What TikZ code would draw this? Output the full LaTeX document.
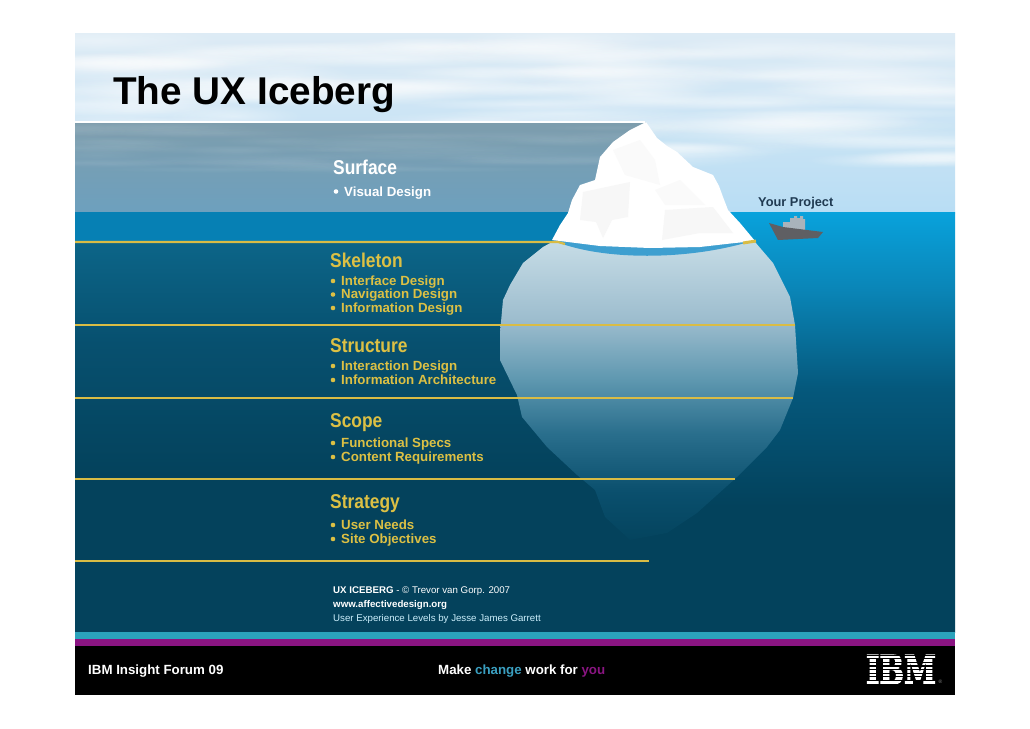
\documentclass[tikz,border=0pt]{standalone}
\usepackage{fontspec}
\setmainfont{Liberation Sans}
\newfontfamily\headf[FakeStretch=0.87]{Liberation Sans}
\newfontfamily\ibmf[BoldFeatures={FakeBold=3}]{DejaVu Serif}
\usetikzlibrary{fadings}
\tikzfading[name=soft, inner color=transparent!0, outer color=transparent!100]
\definecolor{gold}{HTML}{DCC044}
\definecolor{linegold}{HTML}{D9BC45}
\definecolor{skyA}{HTML}{DDEBF5}
\definecolor{skyB}{HTML}{B8DDF4}
\definecolor{panA}{HTML}{7D9DAD}
\definecolor{panB}{HTML}{6DA0BE}
\definecolor{surf}{HTML}{0680B4}
\definecolor{wa}{HTML}{09A2DC}
\definecolor{wb}{HTML}{0A86B8}
\definecolor{wc}{HTML}{05587C}
\definecolor{wd}{HTML}{03425C}
\definecolor{da}{HTML}{0C6588}
\definecolor{db}{HTML}{07506F}
\definecolor{dc}{HTML}{04425C}
\definecolor{ia}{HTML}{C6DCE6}
\definecolor{ib}{HTML}{9DBDCE}
\definecolor{ic}{HTML}{5F98B0}
\definecolor{id}{HTML}{2A6F8D}
\definecolor{ie}{HTML}{0A4F6D}
\definecolor{ig}{HTML}{04445E}
\definecolor{bandc}{HTML}{3E9FD0}
\definecolor{stripc}{HTML}{2BA3BC}
\definecolor{purp}{HTML}{8A1582}
\definecolor{chg}{HTML}{3A9FC0}
\definecolor{navy}{HTML}{1F3A52}
\definecolor{hull}{HTML}{5F5F63}
\definecolor{deck}{HTML}{A9B3BB}
\pgfdeclareverticalshading{skysh}{100bp}{color(0bp)=(skyB);color(25bp)=(skyB);color(75bp)=(skyA);color(100bp)=(skyA)}
\pgfdeclareverticalshading{pansh}{100bp}{color(0bp)=(panB);color(25bp)=(panB);color(75bp)=(panA);color(100bp)=(panA)}
\pgfdeclareverticalshading{watersh}{100bp}{color(0bp)=(wd);color(25bp)=(wd);color(40bp)=(wd);color(54bp)=(wc);color(66bp)=(wb);color(75bp)=(wa);color(100bp)=(wa)}
\pgfdeclareverticalshading{deepsh}{100bp}{color(0bp)=(dc);color(25bp)=(dc);color(45bp)=(dc);color(62bp)=(db);color(75bp)=(da);color(100bp)=(da)}
\pgfdeclareverticalshading{icesh}{100bp}{color(0bp)=(ig);color(25bp)=(ig);color(33bp)=(ie);color(43bp)=(id);color(52bp)=(ic);color(62bp)=(ib);color(75bp)=(ia);color(100bp)=(ia)}
\tikzset{
  headtxt/.style={anchor=base west,inner sep=0pt,text=gold,font=\headf\bfseries\fontsize{20}{24}\selectfont},
  itemtxt/.style={anchor=base west,inner sep=0pt,text=gold,font=\bfseries\fontsize{13.3}{16}\selectfont},
  bulletdot/.style={fill=gold,draw=none,circle,inner sep=0pt,minimum size=4.6pt},
  goldline/.style={draw=linegold,line width=2.2pt},
  credit/.style={anchor=base west,inner sep=0pt,text=white,font=\fontsize{9.7}{12}\selectfont},
  foot/.style={anchor=base west,inner sep=0pt,text=white,font=\bfseries\fontsize{13.3}{16}\selectfont},
  facet/.style={fill=black!3}
}
\begin{document}
\begin{tikzpicture}[x=1pt,y=-1pt]
\useasboundingbox (0,0) rectangle (1030,728);
\fill[white] (0,0) rectangle (1030,728);
% sky
\shade[shading=skysh] (75,33) rectangle (955,213);
\pgfmathsetseed{42}
\begin{scope}
\clip (75,33) rectangle (955,213);
\foreach \i in {1,...,90}{
  \pgfmathsetmacro\cx{75+rnd*880}
  \pgfmathsetmacro\cy{36+rnd*125}
  \pgfmathsetmacro\rx{60+rnd*120}
  \pgfmathsetmacro\ry{6+rnd*9}
  \fill[white,opacity=.38,path fading=soft] (\cx,\cy) ellipse [x radius=\rx,y radius=\ry];
}
\end{scope}
% grey panel
\shade[shading=pansh] (75,122) -- (646,122) -- (620,213) -- (75,213) -- cycle;
\begin{scope}
\clip (75,122) -- (646,122) -- (620,213) -- (75,213) -- cycle;
\foreach \i in {1,...,40}{
  \pgfmathsetmacro\cx{75+rnd*570}
  \pgfmathsetmacro\cy{125+rnd*45}
  \pgfmathsetmacro\rx{50+rnd*110}
  \pgfmathsetmacro\ry{3+rnd*5}
  \fill[white,opacity=.06,path fading=soft] (\cx,\cy) ellipse [x radius=\rx,y radius=\ry];
}
\end{scope}
\draw[white,line width=1.2pt] (75,122) -- (645,122);
% water
\shade[shading=watersh] (75,212) rectangle (955,632);
\fill[surf] (75,212) rectangle (640,242);
\shade[shading=deepsh] (75,242) rectangle (650,632);
% iceberg below water
\shade[shading=icesh] (552,242) -- (543,247) -- (523,263) -- (510,285) -- (503,300) -- (500,333) -- (500,360) -- (517,395) -- (522,417) -- (547,447) -- (577,475) -- (595,490) -- (605,517) -- (630,540) -- (667,533) -- (697,513) -- (737,477) -- (767,447) -- (780,430) -- (793,398) -- (798,373) -- (795,325) -- (790,297) -- (773,263) -- (755,242) -- cycle;
% blue band
\fill[bandc] (552,240) .. controls (600,261) and (690,261) .. (755,240) -- (746,238) .. controls (700,250) and (610,250) .. (560,238) -- cycle;
% iceberg above water
\fill[white] (646,122) -- (657,138) -- (667,146) -- (677,152) -- (693,167) -- (713,175) -- (719,186) -- (723,197) -- (728,210) -- (740,223) -- (755,241) -- (735,243) -- (700,247) -- (650,248) -- (600,246) -- (552,240) -- (560,225) -- (568,213) -- (572,200) -- (580,185) -- (595,180) -- (600,157) -- (613,142) -- (630,130) -- cycle;
\fill[facet] (583,192) -- (630,182) -- (628,217) -- (612,220) -- (603,238) -- (596,222) -- (580,220) -- cycle;
\fill[facet] (665,210) -- (713,207) -- (733,233) -- (700,233) -- (662,240) -- cycle;
\fill[facet,fill=black!2] (613,150) -- (640,140) -- (655,160) -- (660,185) -- (625,175) -- cycle;
\fill[facet,fill=black!2] (655,190) -- (680,180) -- (705,205) -- (665,205) -- cycle;
% lines
\coordinate (l1a) at (75,242); \coordinate (l1b) at (558,242);
\coordinate (l1e) at (565,244);
\coordinate (l1c) at (743,243); \coordinate (l1d) at (756,241);
\coordinate (l2a) at (75,325); \coordinate (l2b) at (795,325);
\coordinate (l3a) at (75,398); \coordinate (l3b) at (793,398);
\coordinate (l4a) at (75,479); \coordinate (l4b) at (735,479);
\coordinate (l5a) at (75,561); \coordinate (l5b) at (649,561);
\draw[goldline] (l1a) -- (l1b) -- (l1e);
\draw[goldline,line width=3pt] (l1c) -- (l1d);
\draw[goldline] (l2a) -- (l2b);
\draw[goldline] (l3a) -- (l3b);
\draw[goldline] (l4a) -- (l4b);
\draw[goldline] (l5a) -- (l5b);
% ship
\fill[deck] (783,228) -- (783,222) -- (790,222) -- (790,218) -- (794,218) -- (794,216) -- (797,216) -- (797,218) -- (800,218) -- (800,216) -- (803,216) -- (803,219) -- (805,219) -- (805,230) -- cycle;
\fill[hull] (769,223) -- (783,227) -- (823,232) -- (818,238) -- (778,240) -- cycle;
\node[anchor=base west,inner sep=0pt,text=navy,font=\bfseries\fontsize{12.8}{15}\selectfont] (proj) at (758,206) {Your Project};
% texts
\node[headtxt,text=white] (surface) at (333,174) {Surface};
\node[bulletdot,fill=white] (bs) at (336,191.5) {};
\node[itemtxt,text=white] (visual) at (344,196) {Visual Design};
\node[headtxt] (skel) at (330,267) {Skeleton};
\node[bulletdot] (b1) at (333,281) {}; \node[itemtxt] (t1) at (341,285) {Interface Design};
\node[bulletdot] (b2) at (333,294.5) {}; \node[itemtxt] (t2) at (341,298.5) {Navigation Design};
\node[bulletdot] (b3) at (333,308) {}; \node[itemtxt] (t3) at (341,312) {Information Design};
\node[headtxt] (struct) at (330,352) {Structure};
\node[bulletdot] (b4) at (333,366) {}; \node[itemtxt] (t4) at (341,370) {Interaction Design};
\node[bulletdot] (b5) at (333,380) {}; \node[itemtxt] (t5) at (341,384) {Information Architecture};
\node[headtxt] (scope) at (330,427) {Scope};
\node[bulletdot] (b6) at (333,443) {}; \node[itemtxt] (t6) at (341,447) {Functional Specs};
\node[bulletdot] (b7) at (333,457) {}; \node[itemtxt] (t7) at (341,461) {Content Requirements};
\node[headtxt] (strat) at (330,508) {Strategy};
\node[bulletdot] (b8) at (333,525) {}; \node[itemtxt] (t8) at (341,529) {User Needs};
\node[bulletdot] (b9) at (333,539) {}; \node[itemtxt] (t9) at (341,543) {Site Objectives};
\node[credit] (c1) at (333,593) {\textbf{UX ICEBERG} - © Trevor van Gorp. 2007};
\node[credit] (c2) at (333,607) {\textbf{www.affectivedesign.org}};
\node[credit,text=white!80!cyan] (c3) at (333,621) {User Experience Levels by Jesse James Garrett};
% title
\node[anchor=base west,inner sep=0pt,font=\bfseries\fontsize{38.7}{44}\selectfont] (title) at (113,104) {The UX Iceberg};
% footer
\fill[stripc] (75,632) rectangle (955,638.5);
\fill[purp] (75,638.5) rectangle (955,646);
\fill[black] (75,646) rectangle (955,695);
\node[foot] (f1) at (88,674) {IBM Insight Forum 09};
\node[foot] (f2) at (438,674) {Make \textcolor{chg}{change} work for \textcolor{purp}{you}};
\node[inner sep=0pt,text=white] (ibm) at (901,669.5) {\resizebox{70pt}{29pt}{\ibmf\bfseries IBM}};
\foreach \k in {0,...,8}{\fill[black] (862,654.6+\k*3.63) rectangle (940,655.7+\k*3.63);}
\node[anchor=base west,inner sep=0pt,text=black!45,font=\fontsize{5}{6}\selectfont] (reg) at (938.5,683) {®};
\end{tikzpicture}
\end{document}
